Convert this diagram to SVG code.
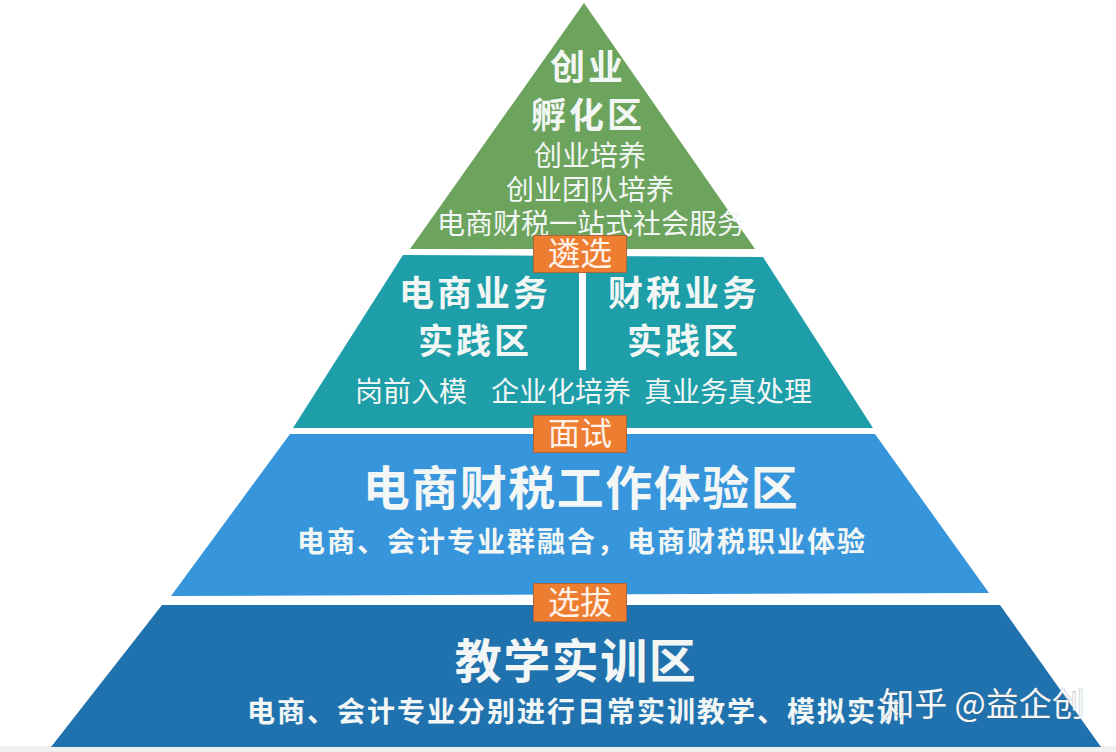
<svg xmlns="http://www.w3.org/2000/svg" width="1116" height="752" viewBox="0 0 1116 752">
<style>
text{font-family:"Noto Sans CJK SC","Liberation Sans",sans-serif;fill:#f2f6f4;text-anchor:middle}
.h{font-weight:700;font-size:35px;letter-spacing:3px}
.s{font-size:28px}
.b{font-size:28px;font-weight:700;letter-spacing:2px}
.l{font-size:47px;font-weight:700;letter-spacing:1.500px}
.t{font-size:32px;fill:#fff2e8}
.box{fill:#ed7d31;stroke:#a8643a;stroke-width:1}
</style>
<rect width="1116" height="752" fill="#fff"/>
<rect y="746" width="1116" height="6" fill="#efefef"/>
<g id="tier-incubation">
<polygon points="584,3 755,249 410,249" fill="#6ca35d"/>
<text class="h" x="588" y="80">创业</text>
<text class="h" x="588" y="128">孵化区</text>
<text class="s" x="590" y="166">创业培养</text>
<text class="s" x="590" y="200">创业团队培养</text>
<text class="s" x="591" y="234">电商财税一站式社会服务</text>
</g>
<g id="tier-practice">
<polygon points="403,255 763,257 873,428 293,428" fill="#1d9ea8"/>
<rect x="579" y="270" width="7" height="100" fill="#fff"/>
<text class="h" x="475" y="306">电商业务</text>
<text class="h" x="475" y="354">实践区</text>
<text class="h" x="684" y="306">财税业务</text>
<text class="h" x="684" y="354">实践区</text>
<text class="s" x="411" y="402">岗前入模</text>
<text class="s" x="561" y="402">企业化培养</text>
<text class="s" x="728" y="402">真业务真处理</text>
</g>
<g id="tier-experience">
<polygon points="290,434 875,434 989,593 171,596" fill="#3695db"/>
<text class="l" x="581" y="505">电商财税工作体验区</text>
<text class="b" x="582" y="552">电商、会计专业群融合，电商财税职业体验</text>
</g>
<g id="tier-training">
<polygon points="162,605 1000,605 1101,747 51,747" fill="#2072ae"/>
<text class="l" x="576" y="678">教学实训区</text>
<text class="b" x="577" y="722">电商、会计专业分别进行日常实训教学、模拟实训</text>
</g>
<g id="label-select-1"><rect class="box" x="533.500" y="235.500" width="93" height="37"/><text class="t" x="580" y="265">遴选</text></g>
<g id="label-interview"><rect class="box" x="533.500" y="415.500" width="93" height="37"/><text class="t" x="580" y="445">面试</text></g>
<g id="label-select-2"><rect class="box" x="533.500" y="583.500" width="93" height="38"/><text class="t" x="580" y="614">选拔</text></g>
<g id="watermark"><text x="983" y="716" style="font-size:33px;fill:#f4f7fa;stroke:#555;stroke-width:.4;paint-order:stroke">知乎 @益企创</text></g>
</svg>
